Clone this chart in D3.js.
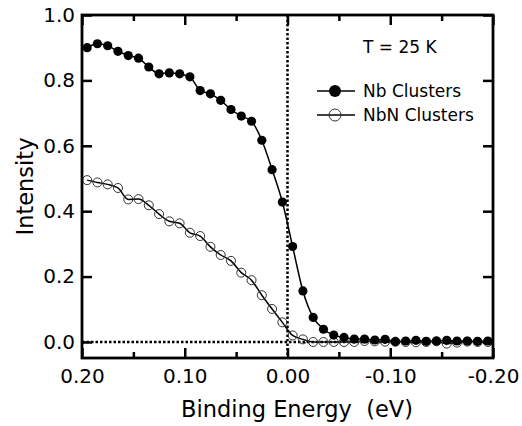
<!DOCTYPE html>
<html>
<head>
<meta charset="utf-8">
<script src="https://cdn.jsdelivr.net/npm/d3@7"></script>
<style>
  body { margin: 0; background: #fff; }
  svg { display: block; font-family: "DejaVu Sans", sans-serif; }
</style>
</head>
<body>
<div id="chart"></div>
<script>
// binding energy of each point (eV)
const energy = [0.195, 0.185, 0.175, 0.165, 0.155, 0.145, 0.135, 0.125, 0.115, 0.105,
    0.095, 0.085, 0.075, 0.065, 0.055, 0.045, 0.035, 0.025, 0.015, 0.005,
    -0.005, -0.015, -0.025, -0.035, -0.045, -0.055, -0.065, -0.075, -0.085, -0.095,
    -0.105, -0.115, -0.125, -0.135, -0.145, -0.155, -0.165, -0.175, -0.185, -0.195]

const nbClusters = [0.900, 0.912, 0.906, 0.889, 0.876, 0.868, 0.841, 0.820, 0.823, 0.820,
    0.811, 0.769, 0.759, 0.739, 0.711, 0.691, 0.675, 0.617, 0.527, 0.428,
    0.292, 0.156, 0.075, 0.039, 0.021, 0.014, 0.009, 0.009, 0.006, 0.008,
    0.001, 0.003, 0.005, 0.002, 0.003, 0.005, 0.003, 0.003, 0.002, 0.003]

const nbnClusters = [0.495, 0.488, 0.482, 0.471, 0.436, 0.437, 0.418, 0.391, 0.369, 0.363,
    0.334, 0.324, 0.291, 0.266, 0.248, 0.212, 0.189, 0.143, 0.101, 0.060,
    0.020, 0.008, 0.000, 0.000, 0.000, 0.000, 0.000, 0.003, 0.002, 0.001,
    0.001, 0.000, -0.001, 0.000, 0.002, -0.005, -0.002, 0.001, 0.000, 0.000]

const xTicks = [0.20, 0.10, 0.00, -0.10, -0.20]
const xMinorTicks = [0.15, 0.05, -0.05, -0.15]
const yTicks = [0.0, 0.2, 0.4, 0.6, 0.8, 1.0]

const width = 522,
    height = 426;
const margin = {top: 15, right: 29, bottom: 68, left: 82};

const svg = d3.select("#chart")
    .append("svg")
    .attr("width", width)
    .attr("height", height);

const x = d3.scaleLinear()
    .domain([0.2, -0.2])
    .range([margin.left, width - margin.right]);

const y = d3.scaleLinear()
    .domain([-0.049, 1.0])
    .range([height - margin.bottom, margin.top]);

const x0 = margin.left, x1 = width - margin.right;
const y0 = height - margin.bottom, y1 = margin.top;

// dotted reference lines at zero
svg.append("line")
    .attr("x1", x0).attr("x2", x1)
    .attr("y1", y(0)).attr("y2", y(0))
    .attr("stroke", "#000")
    .attr("stroke-width", 2.5)
    .attr("stroke-dasharray", "2.5,2");

svg.append("line")
    .attr("x1", x(0)).attr("x2", x(0))
    .attr("y1", y1).attr("y2", y0)
    .attr("stroke", "#000")
    .attr("stroke-width", 2.5)
    .attr("stroke-dasharray", "2.5,2");

const line = d3.line()
    .x((d, i) => x(energy[i]))
    .y(d => y(d))
    .curve(d3.curveMonotoneX);

// Nb series
svg.append("path")
    .datum(nbClusters)
    .attr("d", line)
    .attr("fill", "none")
    .attr("stroke", "#000")
    .attr("stroke-width", 1.5);

// NbN series
svg.append("path")
    .datum(nbnClusters)
    .attr("d", line)
    .attr("fill", "none")
    .attr("stroke", "#000")
    .attr("stroke-width", 1.5);

svg.append("g")
    .selectAll("circle")
    .data(nbnClusters)
    .join("circle")
    .attr("cx", (d, i) => x(energy[i]))
    .attr("cy", d => y(d))
    .attr("r", 4.5)
    .attr("fill", "none")
    .attr("stroke", "#333")
    .attr("stroke-width", 1);

svg.append("g")
    .selectAll("circle")
    .data(nbClusters)
    .join("circle")
    .attr("cx", (d, i) => x(energy[i]))
    .attr("cy", d => y(d))
    .attr("r", 4.6)
    .attr("fill", "#000");

// axes: ticks point inward, frame drawn separately
const styleAxis = g => {
    g.select(".domain").remove();
    g.selectAll(".tick line").attr("stroke", "#000").attr("stroke-width", 2.5);
    g.selectAll(".tick text").attr("fill", "#000");
};

svg.append("g")
    .attr("transform", `translate(0,${y0})`)
    .call(d3.axisBottom(x).tickValues(xTicks).tickSize(-10).tickPadding(11)
        .tickFormat(d => d.toFixed(2)))
    .call(styleAxis)
    .call(g => g.selectAll("text").style("font-size", "20px").style("font-family", "DejaVu Sans"));

svg.append("g")
    .attr("transform", `translate(0,${y0})`)
    .call(d3.axisBottom(x).tickValues(xMinorTicks).tickSize(-6).tickFormat(""))
    .call(styleAxis);

svg.append("g")
    .attr("transform", `translate(0,${y1})`)
    .call(d3.axisTop(x).tickValues(xTicks).tickSize(-10).tickFormat(""))
    .call(styleAxis);

svg.append("g")
    .attr("transform", `translate(0,${y1})`)
    .call(d3.axisTop(x).tickValues(xMinorTicks).tickSize(-6).tickFormat(""))
    .call(styleAxis);

svg.append("g")
    .attr("transform", `translate(${x0},0)`)
    .call(d3.axisLeft(y).tickValues(yTicks).tickSize(-10).tickPadding(7)
        .tickFormat(d => d.toFixed(1)))
    .call(styleAxis)
    .call(g => g.selectAll("text").style("font-size", "20px").style("font-family", "DejaVu Sans"));

svg.append("g")
    .attr("transform", `translate(${x1},0)`)
    .call(d3.axisRight(y).tickValues(yTicks).tickSize(-10).tickFormat(""))
    .call(styleAxis);

// frame
svg.append("rect")
    .attr("x", x0).attr("y", y1)
    .attr("width", x1 - x0).attr("height", y0 - y1)
    .attr("fill", "none")
    .attr("stroke", "#000")
    .attr("stroke-width", 2.8);

// axis titles
svg.append("text")
    .attr("x", 297)
    .attr("y", 417)
    .attr("text-anchor", "middle")
    .style("font-size", "22.5px")
    .text("Binding Energy  (eV)")
    .attr("xml:space", "preserve")
    .style("white-space", "pre");

svg.append("text")
    .attr("transform", `translate(33,${(y0 + y1) / 2}) rotate(-90)`)
    .attr("text-anchor", "middle")
    .style("font-size", "22.5px")
    .text("Intensity");

// annotation and legend
svg.append("text")
    .attr("x", 363)
    .attr("y", 53)
    .style("font-size", "17px")
    .text("T = 25 K");

const legend = svg.append("g").attr("transform", "translate(317,0)");
const legendItems = [
    {label: "Nb Clusters", filled: true, yPos: 91},
    {label: "NbN Clusters", filled: false, yPos: 115}
];

legend.selectAll("g")
    .data(legendItems)
    .join("g")
    .attr("transform", d => `translate(0,${d.yPos})`)
    .call(g => g.append("line")
        .attr("x1", 0).attr("x2", 38)
        .attr("stroke", "#000").attr("stroke-width", 1.5))
    .call(g => g.append("circle")
        .attr("cx", 18).attr("r", 6)
        .attr("fill", d => d.filled ? "#000" : "none")
        .attr("stroke", d => d.filled ? "none" : "#333")
        .attr("stroke-width", 1))
    .call(g => g.append("text")
        .attr("x", 46).attr("dy", "0.36em")
        .style("font-size", "17px")
        .text(d => d.label));
</script>
</body>
</html>
